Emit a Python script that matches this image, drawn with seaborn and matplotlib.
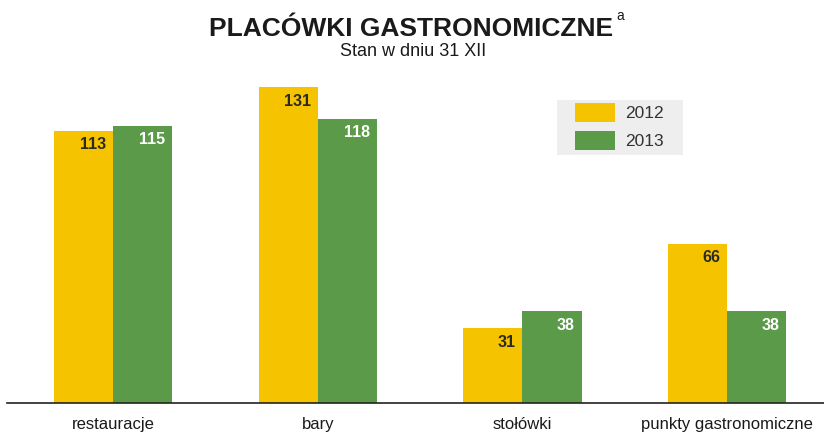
import pandas as pd
import matplotlib
matplotlib.use('Agg')
import matplotlib.pyplot as plt
from matplotlib.patches import Rectangle
import seaborn as sns

# data
categories = ['restauracje', 'bary', 'stołówki', 'punkty gastronomiczne']
years = ['2012', '2013']
values_2012 = [113, 131, 31, 66]
values_2013 = [115, 118, 38, 38]

colors = {'2012': '#F5C300', '2013': '#5A9A48'}
label_colors = {'2012': '#2a2a2a', '2013': 'white'}

df = pd.DataFrame({
    'kategoria': categories * 2,
    'rok': ['2012'] * 4 + ['2013'] * 4,
    'liczba': values_2012 + values_2013,
})

sns.set_theme(style='white')
plt.rcParams['font.family'] = ['Liberation Sans', 'DejaVu Sans']

fig = plt.figure(figsize=(8.24, 4.32), dpi=100)
ax = fig.add_axes([7 / 824, 1 - 403 / 432, 1 - 7 / 824, (403 - 60) / 432])

sns.barplot(
    data=df, x='kategoria', y='liczba', hue='rok',
    hue_order=years, palette=colors, width=0.577, gap=0,
    saturation=1, linewidth=0, ax=ax,
)

# value labels inside the top right corner of each bar
for cont, yr in zip(ax.containers, years):
    for patch in cont:
        h = patch.get_height()
        ax.annotate(f'{h:.0f}', xy=(patch.get_x() + patch.get_width(), h),
                    xytext=(-5, -10), textcoords='offset points',
                    ha='right', va='center', fontsize=11.5, fontweight='bold',
                    color=label_colors[yr])

ax.set_xlim(-0.518, 3.473)
ax.set_ylim(0, 142.3)
ax.set_xlabel('')
ax.set_ylabel('')
ax.set_yticks([])
ax.tick_params(axis='x', length=0, pad=10)
for lbl in ax.get_xticklabels():
    lbl.set_fontsize(12)
    lbl.set_color('#1a1a1a')
for s in ['left', 'right', 'top']:
    ax.spines[s].set_visible(False)
ax.spines['bottom'].set_color('#222222')
ax.spines['bottom'].set_linewidth(1.2)

# legend with grey background box
ax.add_patch(Rectangle((557 / 824, 1 - 155 / 432), 126 / 824, 55 / 432,
                       transform=fig.transFigure, facecolor='#eeeeee',
                       edgecolor='none', zorder=4, clip_on=False))
leg = ax.legend(
    loc='upper left', bbox_to_anchor=(572 / 824, 1 - 100 / 432),
    bbox_transform=fig.transFigure, frameon=False,
    fontsize=12.5, handlelength=2.3, handleheight=1.3, handletextpad=0.6,
    labelspacing=0.55, borderpad=0.15, borderaxespad=0,
)
for t in leg.get_texts():
    t.set_color('#333333')

fig.text(411 / 824, 1 - 29 / 432, 'PLACÓWKI GASTRONOMICZNE', ha='center', va='center',
         fontsize=19, fontweight='bold', color='#1a1a1a')
fig.text(616 / 824, 1 - 16 / 432, 'a', ha='left', va='center', fontsize=10, color='#1a1a1a')
fig.text(413 / 824, 1 - 51 / 432, 'Stan w dniu 31 XII', ha='center', va='center',
         fontsize=13, color='#1a1a1a')

fig.savefig('out.png', dpi=100)
